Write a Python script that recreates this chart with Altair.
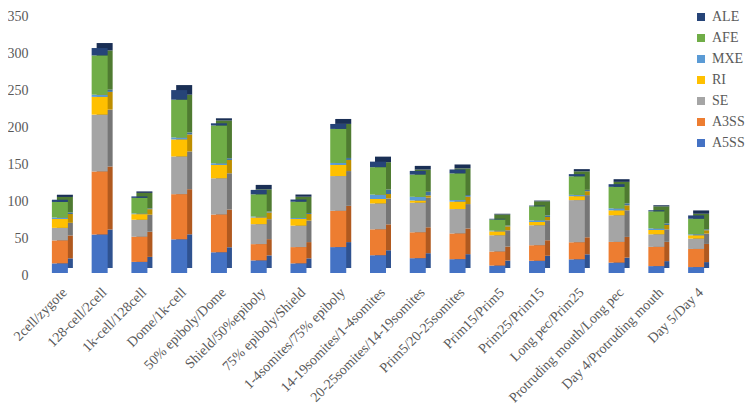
import altair as alt
import pandas as pd

categories = ["2cell/zygote", "128-cell/2cell", "1k-cell/128cell", "Dome/1k-cell",
              "50% epiboly/Dome", "Shield/50%epiboly", "75% epiboly/Shield",
              "1-4somites/75% epiboly", "14-19somites/1-4somites",
              "20-25somites/14-19somites", "Prim5/20-25somites", "Prim15/Prim5",
              "Prim25/Prim15", "Long pec/Prim25", "Protruding mouth/Long pec",
              "Day 4/Protruding mouth", "Day 5/Day 4"]

series = ["A5SS", "A3SS", "SE", "RI", "MXE", "AFE", "ALE"]

a5ss = [13, 52, 15, 45.5, 28, 17, 13, 35, 24, 20, 18.7, 10, 16.5, 18.5, 14, 9.3, 8]
a3ss = [31, 85, 34, 61, 51, 22, 22, 49, 35, 35, 34.7, 19, 21, 23, 28, 26, 24.5]
se   = [17, 77, 23, 51, 49, 27, 29, 47, 35, 40, 33, 22, 27, 57, 36, 17, 14]
ri   = [12, 24, 7.5, 23, 18, 9, 9, 15, 6, 3, 10, 5.3, 4.4, 5.3, 6.7, 5.8, 4.5]
mxe  = [2, 3, 1, 2.7, 2.3, 1.3, 1.3, 2.7, 6, 5, 2.2, 1, 2.2, 1.8, 2.7, 2.2, 1.3]
afe  = [21, 53, 21, 51, 51, 30, 22, 46, 37, 30, 36, 15, 19, 25, 29, 23, 21]
ale  = [3, 10, 2, 13, 3, 6, 3, 6.7, 7.5, 5, 5.3, 1, 1, 3, 3.6, 1.5, 4.5]

values = [a5ss, a3ss, se, ri, mxe, afe, ale]

face = {"A5SS": "#4472C4", "A3SS": "#ED7D31", "SE": "#A5A5A5", "RI": "#FFC000",
        "MXE": "#5B9BD5", "AFE": "#70AD47", "ALE": "#264478"}
side = {"A5SS": "#2F5290", "A3SS": "#B0591F", "SE": "#767676", "RI": "#BD8E00",
        "MXE": "#41719C", "AFE": "#4F7B31", "ALE": "#1A2F55"}

rows = []
for k, (name, vals) in enumerate(zip(series, values)):
    for c, v in zip(categories, vals):
        rows.append({"stage": c, "type": name, "count": v, "k": k})
df = pd.DataFrame(rows)

legend_order = series[::-1]
FONT = "Liberation Serif"
GREY = "#595959"

x_enc = alt.X("stage:N", sort=categories,
              scale=alt.Scale(paddingInner=0, paddingOuter=0),
              axis=alt.Axis(title=None, labelAngle=-45, labelAlign="right",
                            labelBaseline="top", labelPadding=12, ticks=False,
                            domain=False, grid=False, labelFont=FONT,
                            labelFontSize=14, labelColor=GREY, labelLimit=400))
y_enc = alt.Y("count:Q", stack="zero",
              scale=alt.Scale(domain=[0, 350], nice=False),
              axis=alt.Axis(title=None, values=list(range(0, 351, 50)),
                            ticks=False, domain=False, grid=False,
                            labelPadding=12, labelOffset=2, labelFont=FONT,
                            labelFontSize=14, labelColor=GREY))

base = alt.Chart(df)

shadow = base.mark_bar(size=16, xOffset=5, yOffset=-5, y2Offset=-5).encode(
    x=x_enc, y=y_enc,
    color=alt.Color("type:N", scale=alt.Scale(domain=series, range=[side[s] for s in series]),
                    legend=None),
    order=alt.Order("k:Q", sort="ascending"),
)

front = base.mark_bar(size=16).encode(
    x=x_enc, y=y_enc,
    color=alt.Color("type:N",
                    scale=alt.Scale(domain=legend_order, range=[face[s] for s in legend_order]),
                    legend=alt.Legend(title=None, orient="none", legendX=654, legendY=-4,
                                      symbolType="square", symbolSize=64,
                                      symbolStrokeWidth=0, labelFont=FONT,
                                      labelFontSize=14, labelColor=GREY,
                                      rowPadding=7, labelOffset=4, padding=0)),
    order=alt.Order("k:Q", sort="ascending"),
)

chart = alt.layer(shadow, front).resolve_scale(color="independent").properties(
    width=676, height=259,
    padding={"left": 32, "top": 6, "right": 30, "bottom": 131},
    autosize=alt.AutoSizeParams(type="none"),
).configure_view(stroke=None)

chart.save("out.html", embed_options={"renderer": "svg", "actions": False})
